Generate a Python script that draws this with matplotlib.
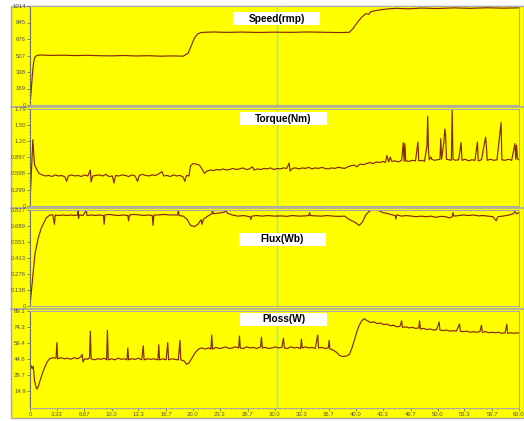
import numpy as np
import matplotlib
matplotlib.use("Agg")
import matplotlib.pyplot as plt
from matplotlib.patches import Rectangle
from matplotlib.lines import Line2D
from matplotlib.ticker import AutoMinorLocator

plt.rcParams["font.family"] = ["Liberation Sans", "DejaVu Sans"]

W, H = 524, 421
YELLOW = "#ffff00"
LINE = "#842808"
GRID = "#a8a8a8"

# ---- data (time in s) ----
speed_pts = [
    (0, 0), (0.15, 150), (0.3, 320), (0.45, 440), (0.6, 490), (0.8, 505), (1.0, 510),
    (1.5, 512), (2.5, 508), (4, 510), (5.5, 506), (7, 509), (8.5, 505), (10, 503),
    (11.5, 507), (13, 502), (14.5, 505), (16, 500), (17.5, 503), (18.8, 500),
    (19.4, 530), (19.8, 610), (20.2, 690), (20.6, 730), (21.0, 742), (21.5, 745),
    (22.5, 748), (24, 744), (26, 747), (28, 743), (30, 746), (32, 744), (34, 748),
    (36, 745), (38, 742), (39.2, 745), (39.7, 790), (40.2, 850), (40.7, 900),
    (41.2, 935), (41.6, 930), (41.8, 955), (42.3, 965), (43, 975), (44, 985),
    (45, 990), (46.5, 985), (48, 993), (50, 988), (52, 995), (54, 990), (56, 996),
    (58, 992), (60, 995),
]

torque_pts = [
    (0.0, 0.05), (0.25, 0.9), (0.35, 1.22), (0.45, 1.0), (0.55, 0.76), (0.8, 0.68),
    (1.1, 0.6), (1.5, 0.57), (1.9, 0.55), (2.3, 0.56), (2.7, 0.54), (3.1, 0.57),
    (3.5, 0.55), (3.9, 0.56), (4.3, 0.53), (4.5, 0.45), (4.7, 0.55), (5.1, 0.57),
    (5.5, 0.55), (5.9, 0.56), (6.3, 0.54), (6.7, 0.57), (7.1, 0.55), (7.4, 0.66),
    (7.5, 0.44), (7.7, 0.55), (8.1, 0.56), (8.5, 0.57), (8.9, 0.55), (9.3, 0.58),
    (9.7, 0.54), (10.1, 0.55), (10.3, 0.42), (10.5, 0.56), (10.9, 0.55), (11.3, 0.57),
    (11.7, 0.56), (12.1, 0.54), (12.5, 0.57), (12.9, 0.55), (13.2, 0.45), (13.4, 0.56),
    (13.8, 0.58), (14.2, 0.56), (14.6, 0.55), (15.0, 0.57), (15.4, 0.56), (15.8, 0.59),
    (16.2, 0.63), (16.4, 0.55), (16.8, 0.56), (17.2, 0.54), (17.6, 0.57), (18.0, 0.55),
    (18.4, 0.56), (18.8, 0.53), (19.0, 0.45), (19.2, 0.56), (19.5, 0.55), (19.7, 0.74),
    (20.0, 0.78), (20.4, 0.77), (20.8, 0.75), (21.1, 0.68), (21.4, 0.60), (21.7, 0.64),
    (22.1, 0.66), (22.5, 0.65), (22.9, 0.67), (23.3, 0.66), (23.7, 0.68), (24.1, 0.66),
    (24.5, 0.67), (24.9, 0.69), (25.3, 0.67), (25.7, 0.68), (26.1, 0.70), (26.5, 0.67),
    (26.9, 0.68), (27.3, 0.72), (27.5, 0.66), (27.9, 0.68), (28.3, 0.67), (28.7, 0.69),
    (29.1, 0.68), (29.5, 0.70), (29.9, 0.67), (30.3, 0.69), (30.7, 0.68), (31.1, 0.70),
    (31.5, 0.69), (31.8, 0.79), (31.9, 0.64), (32.2, 0.69), (32.6, 0.70), (33.0, 0.68),
    (33.4, 0.70), (33.8, 0.69), (34.2, 0.71), (34.6, 0.68), (35.0, 0.70), (35.4, 0.69),
    (35.8, 0.71), (36.2, 0.69), (36.6, 0.68), (37.0, 0.70), (37.4, 0.69), (37.8, 0.71),
    (38.2, 0.70), (38.6, 0.69), (39.0, 0.72), (39.4, 0.74), (39.8, 0.75), (40.1, 0.72),
    (40.5, 0.77), (40.9, 0.76), (41.3, 0.78), (41.7, 0.80), (42.1, 0.78), (42.5, 0.81),
    (42.9, 0.80), (43.3, 0.82), (43.6, 0.80), (43.8, 0.93), (44.0, 0.81), (44.2, 0.90),
    (44.4, 0.82), (44.8, 0.83), (45.2, 0.81), (45.6, 0.84), (45.8, 1.17), (45.9, 0.82),
    (46.0, 1.15), (46.1, 0.83), (46.5, 0.82), (46.9, 0.84), (47.3, 0.83), (47.6, 1.18),
    (47.7, 0.83), (48.1, 0.84), (48.4, 0.82), (48.7, 1.1), (48.8, 1.66), (48.9, 1.0),
    (49.0, 0.85), (49.2, 0.90), (49.3, 0.86), (49.6, 0.84), (50.0, 0.85), (50.3, 0.86),
    (50.4, 1.24), (50.5, 0.86), (50.8, 1.2), (50.9, 1.42), (51.0, 1.3), (51.1, 0.86),
    (51.4, 0.85), (51.7, 0.84), (51.8, 1.77), (51.9, 0.86), (52.2, 0.84), (52.6, 0.85),
    (52.9, 1.17), (53.0, 0.84), (53.4, 0.86), (53.8, 0.83), (54.2, 0.85), (54.6, 0.84),
    (54.9, 1.18), (55.0, 0.83), (55.4, 0.85), (55.9, 1.27), (56.0, 1.1), (56.1, 0.84),
    (56.5, 0.86), (56.9, 0.84), (57.3, 0.85), (57.8, 1.54), (57.9, 0.85), (58.3, 0.84),
    (58.7, 0.86), (59.1, 0.84), (59.5, 1.15), (59.6, 0.86), (59.7, 1.12), (59.8, 0.87),
    (60.0, 0.85),
]

flux_pts = [
    (0, 0.0), (0.2, 0.15), (0.4, 0.29), (0.6, 0.44), (1.0, 0.58), (1.4, 0.67),
    (2.0, 0.755), (2.45, 0.78), (2.8, 0.78), (3.0, 0.70), (3.1, 0.78), (3.5, 0.775),
    (4.0, 0.78), (4.5, 0.775), (5.0, 0.78), (5.5, 0.776), (5.85, 0.78), (5.9, 0.827),
    (5.95, 0.75), (6.05, 0.78), (6.5, 0.775), (6.9, 0.82), (7.0, 0.775), (7.5, 0.78),
    (8.0, 0.776), (8.5, 0.78), (9.0, 0.775), (9.1, 0.70), (9.2, 0.78), (9.6, 0.785),
    (10.2, 0.78), (10.8, 0.775), (11.4, 0.78), (12.0, 0.775), (12.1, 0.73), (12.2, 0.78),
    (12.8, 0.785), (13.4, 0.78), (14.0, 0.776), (14.6, 0.78), (15.0, 0.775), (15.1, 0.69),
    (15.2, 0.78), (15.8, 0.78), (16.4, 0.785), (17.0, 0.78), (17.6, 0.78), (18.1, 0.78),
    (18.2, 0.82), (18.3, 0.775), (18.8, 0.77), (19.3, 0.74), (19.7, 0.69), (20.2, 0.68),
    (20.6, 0.70), (21.0, 0.74), (21.1, 0.70), (21.3, 0.745), (21.8, 0.77), (22.3, 0.79),
    (22.4, 0.82), (22.5, 0.79), (23.0, 0.795), (23.5, 0.80), (23.9, 0.805), (24.0, 0.825),
    (24.2, 0.795), (24.8, 0.78), (25.5, 0.77), (26.2, 0.775), (27.0, 0.765), (27.1, 0.74),
    (27.2, 0.77), (27.8, 0.775), (28.5, 0.77), (29.2, 0.775), (30.0, 0.77), (30.8, 0.772),
    (31.5, 0.768), (32.2, 0.775), (33.0, 0.77), (33.7, 0.772), (34.2, 0.775), (34.3, 0.80),
    (34.4, 0.775), (35.0, 0.772), (35.8, 0.77), (36.5, 0.775), (37.2, 0.77), (37.9, 0.768),
    (38.6, 0.77), (39.2, 0.74), (39.8, 0.72), (40.4, 0.69), (40.8, 0.72), (41.2, 0.78),
    (41.6, 0.81), (42.0, 0.825), (42.5, 0.82), (42.9, 0.815), (43.3, 0.80), (43.7, 0.795),
    (44.2, 0.785), (44.8, 0.775), (44.9, 0.745), (45.0, 0.78), (45.6, 0.77), (46.2, 0.775),
    (46.8, 0.77), (47.4, 0.765), (48.0, 0.77), (48.6, 0.765), (49.2, 0.77), (49.8, 0.76),
    (50.4, 0.768), (51.0, 0.765), (51.5, 0.755), (51.8, 0.765), (51.9, 0.80), (52.0, 0.77),
    (52.6, 0.775), (53.2, 0.78), (53.8, 0.775), (54.4, 0.78), (55.0, 0.772), (55.6, 0.775),
    (56.2, 0.77), (56.8, 0.765), (57.2, 0.73), (57.4, 0.765), (58.0, 0.77), (58.8, 0.78),
    (59.3, 0.79), (59.5, 0.81), (59.7, 0.79), (60.0, 0.80),
]

ploss_pts = [
    (0, 37), (0.1, 39), (0.25, 36), (0.4, 38), (0.55, 25), (0.7, 20), (0.85, 17),
    (1.0, 19), (1.2, 24), (1.5, 31), (1.8, 37), (2.1, 42), (2.4, 45), (2.8, 46),
    (3.2, 45.5), (3.3, 60), (3.4, 45), (3.8, 46), (4.2, 45), (4.6, 45.5), (5.0, 44.5),
    (5.4, 46), (5.8, 45), (6.2, 46.5), (6.4, 49), (6.5, 42), (6.7, 45), (7.1, 44.5),
    (7.3, 46), (7.4, 70.5), (7.5, 45), (7.9, 44), (8.3, 45), (8.7, 44.5), (9.1, 45.5),
    (9.4, 44), (9.5, 71.4), (9.6, 44), (10.0, 45), (10.4, 44), (10.8, 45.5), (11.2, 44.5),
    (11.6, 45), (11.9, 44), (12.0, 55), (12.1, 44), (12.5, 45), (12.9, 44.5), (13.3, 45.5),
    (13.7, 44), (13.9, 57), (14.0, 44), (14.4, 45), (14.8, 44.5), (15.2, 45), (15.7, 44),
    (15.8, 58), (15.9, 44), (16.3, 45), (16.7, 44), (16.9, 60), (17.0, 44), (17.4, 45),
    (17.8, 44.5), (18.2, 44), (18.4, 62), (18.5, 44), (18.9, 43), (19.2, 40), (19.5, 41),
    (19.9, 46), (20.3, 51), (20.7, 54), (21.1, 55), (21.5, 54), (21.9, 55), (22.2, 54),
    (22.3, 67), (22.4, 54), (22.8, 55.5), (23.2, 54.5), (23.6, 55), (24.0, 56), (24.4, 54.5),
    (24.8, 55), (25.2, 56), (25.6, 55), (25.7, 66), (25.8, 55), (26.2, 54.5), (26.6, 56),
    (27.0, 55), (27.4, 55.5), (27.8, 54.5), (28.3, 56), (28.4, 65), (28.5, 55), (28.9, 55.5),
    (29.3, 54.5), (29.7, 55), (30.1, 56), (30.5, 55), (30.9, 55.5), (31.1, 64), (31.2, 55),
    (31.6, 54.5), (32.0, 56), (32.4, 55), (32.8, 55.5), (33.2, 54.5), (33.3, 63), (33.4, 55),
    (33.8, 56), (34.2, 55), (34.6, 55.5), (35.0, 54.5), (35.3, 67), (35.4, 55), (35.8, 55.5),
    (36.2, 54.5), (36.6, 55), (36.7, 62), (36.8, 54), (37.2, 53), (37.6, 51), (38.0, 48),
    (38.4, 47), (38.8, 47.5), (39.2, 49), (39.5, 55), (39.8, 62), (40.1, 70), (40.4, 76),
    (40.7, 80), (41.0, 82), (41.4, 80), (41.8, 78.5), (42.2, 79), (42.6, 77.5), (43.0, 78),
    (43.4, 76.5), (43.8, 77), (44.2, 75.5), (44.6, 76), (45.0, 74.5), (45.4, 75), (45.6, 80),
    (45.7, 74), (46.1, 74.5), (46.5, 73.5), (46.9, 74), (47.3, 73), (47.7, 73.5), (47.8, 80),
    (47.9, 72.5), (48.3, 73), (48.7, 72), (49.1, 72.5), (49.5, 71.5), (49.9, 72), (50.2, 79),
    (50.3, 71.5), (50.7, 71), (51.1, 71.5), (51.5, 70.5), (51.9, 71), (52.3, 70.5), (52.7, 77),
    (52.8, 70.5), (53.2, 70), (53.6, 70.5), (54.0, 69.5), (54.4, 70), (54.8, 69.5), (55.2, 70),
    (55.4, 76), (55.5, 69.5), (55.9, 70), (56.3, 69), (56.7, 69.5), (57.1, 69), (57.5, 69.5),
    (57.9, 68.5), (58.3, 69), (58.5, 77), (58.6, 68.5), (59.0, 69), (59.4, 68.5), (59.8, 69),
    (60.0, 68.5),
]

titles = ["Speed(rmp)", "Torque(Nm)", "Flux(Wb)", "Ploss(W)"]
series = [speed_pts, torque_pts, flux_pts, ploss_pts]
ymax = [1014, 1.79, 0.827, 89.1]
ytick_vals = [
    [0, 169, 338, 507, 676, 845, 1014],
    [0, 0.299, 0.598, 0.897, 1.20, 1.50, 1.79],
    [0, 0.138, 0.276, 0.413, 0.551, 0.689, 0.827],
    [14.9, 29.7, 44.6, 59.4, 74.3, 89.1],
]
ytick_labels = [
    ["0", "169", "338", "507", "676", "845", "1014"],
    ["0", "0.299", "0.598", "0.897", "1.20", "1.50", "1.79"],
    ["0", "0.138", "0.276", "0.413", "0.551", "0.689", "0.827"],
    ["14.9", "29.7", "44.6", "59.4", "74.3", "89.1"],
]
xtick_vals = [0, 3.33, 6.67, 10.0, 13.3, 16.7, 20.0, 23.3, 26.7, 30.0,
              33.3, 36.7, 40.0, 43.3, 46.7, 50.0, 53.3, 56.7, 60.0]
xtick_labels = ["0", "3.33", "6.67", "10.0", "13.3", "16.7", "20.0", "23.3", "26.7",
                "30.0", "33.3", "36.7", "40.0", "43.3", "46.7", "50.0", "53.3", "56.7", "60.0"]
cursor_t = 30.3

# panel boxes in pixels: (top, bottom)
panel_px = [(6, 105), (109, 205.7), (209.5, 305.7), (311, 407.5)]
title_px = [(233, 12, 87, 13), (240, 112, 87, 13), (239, 233, 87, 13), (240, 313, 87, 13)]
AX_L, AX_R = 30, 519


def fx(px):
    return px / W


def fy(py):
    return 1 - py / H


fig = plt.figure(figsize=(W / 100, H / 100), dpi=100)
fig.patch.set_facecolor("white")

# yellow backdrop with grey frame, kept under the axes
fig.patches.append(Rectangle((fx(11), fy(418)), fx(W - 11), (418 - 6) / H,
                             transform=fig.transFigure, facecolor=YELLOW,
                             edgecolor=GRID, linewidth=1, zorder=-10))
for sep in [107, 207.5, 308.5]:
    fig.add_artist(Line2D([fx(11), 1], [fy(sep), fy(sep)], color=GRID, lw=1.2, zorder=-5))

for i, (pts, (top, bot)) in enumerate(zip(series, panel_px)):
    ax = fig.add_axes([fx(AX_L), fy(bot), fx(AX_R - AX_L), (bot - top) / H], zorder=1)
    ax.set_facecolor(YELLOW)
    t, v = np.array(pts).T
    ax.plot(t, v, color=LINE, lw=0.85)
    ax.axvline(cursor_t, color="#86e2d2", lw=1.0, zorder=0)
    ax.set_xlim(0, 60)
    ax.set_ylim(0, ymax[i])
    ax.set_yticks(ytick_vals[i])
    ax.set_yticklabels(ytick_labels[i])
    ax.yaxis.set_minor_locator(AutoMinorLocator(5))
    ax.tick_params(axis="y", which="major", length=2, width=0.5, pad=1,
                   labelsize=4.3, labelcolor="#505050", color="#606060")
    ax.tick_params(axis="y", which="minor", length=1, width=0.4, color="#606060")
    if i == 3:
        ax.set_xticks(xtick_vals)
        ax.set_xticklabels(xtick_labels)
        ax.xaxis.set_minor_locator(AutoMinorLocator(5))
        ax.tick_params(axis="x", which="major", length=2, width=0.5, pad=1.5,
                       labelsize=4.3, labelcolor="#505050", color="#606060")
        ax.tick_params(axis="x", which="minor", length=1, width=0.4, color="#606060")
    else:
        ax.set_xticks([])
    for s in ax.spines.values():
        s.set_color(GRID)
        s.set_linewidth(0.8)
    ax.spines["left"].set_color("#707070")

    bx, by, bw, bh = title_px[i]
    fig.patches.append(Rectangle((fx(bx), fy(by + bh)), fx(bw), bh / H,
                                 transform=fig.transFigure, facecolor="white",
                                 edgecolor="none", zorder=5))
    fig.text(fx(bx + bw / 2), fy(by + bh / 2), titles[i], ha="center", va="center",
             fontsize=7.3, fontweight="bold", color="black", zorder=6)

fig.savefig("out.png", dpi=100, facecolor=fig.get_facecolor())
